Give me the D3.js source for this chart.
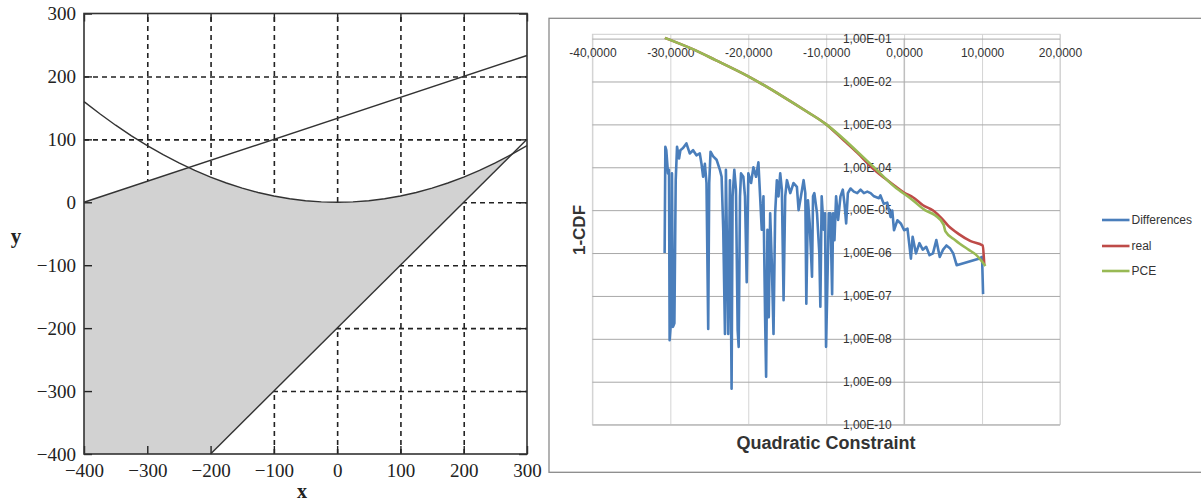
<!DOCTYPE html>
<meta charset="utf-8">
<style>
body { margin: 0; background: #fff; }
svg { display: block; }
.serif text { font-family: "Liberation Serif", "DejaVu Serif", serif; fill: #222; }
.xl text { font-family: "Liberation Sans", Arial, sans-serif; fill: #333; }
</style>
<svg width="1201" height="504"></svg>
<script src="https://d3js.org/d3.v7.min.js"></script>
<script>
// ---------- left figure data ----------
var leftTicks = [-400, -300, -200, -100, 0, 100, 200, 300];
var leftGrid = [-300, -200, -100, 0, 100, 200];
var parabola = [[-400,160],[-375,140.6],[-350,122.5],[-325,105.6],[-300,90],[-275,75.6],[-250,62.5],[-225,50.6],
  [-200,40],[-175,30.6],[-150,22.5],[-125,15.6],[-100,10],[-75,5.6],[-50,2.5],[-25,0.6],[0,0],[25,0.6],[50,2.5],
  [75,5.6],[100,10],[125,15.6],[150,22.5],[175,30.6],[200,40],[225,50.6],[250,62.5],[275,75.6],[300,90]];
var upperLine = [[-400,0],[300,233.3]];
var lowerLine = [[-200,-400],[300,100]];
var region = [[-400,0],[-235,55],[-225,50.6],[-200,40],[-175,30.6],[-150,22.5],[-125,15.6],[-100,10],[-75,5.6],
  [-50,2.5],[-25,0.6],[0,0],[25,0.6],[50,2.5],[75,5.6],[100,10],[125,15.6],[150,22.5],[175,30.6],[200,40],
  [225,50.6],[250,62.5],[276,76.4],[-200,-400],[-400,-400]];

// ---------- right figure data ----------
var xTicks = [-40, -30, -20, -10, 0, 10, 20];
var xTickLabels = ["-40,0000", "-30,0000", "-20,0000", "-10,0000", "0,0000", "10,0000", "20,0000"];
var yTicks = [1e-1, 1e-2, 1e-3, 1e-4, 1e-5, 1e-6, 1e-7, 1e-8, 1e-9, 1e-10];
var yTickLabels = ["1,00E-01", "1,00E-02", "1,00E-03", "1,00E-04", "1,00E-05", "1,00E-06", "1,00E-07", "1,00E-08", "1,00E-09", "1,00E-10"];

var diffX = [-30.73,-30.64,-30.52,-30.30,-30.17,-30.09,-29.87,-29.79,-29.66,-29.48,-29.31,-29.14,-28.88,-28.71,-28.37,
  -27.94,-27.51,-27.08,-26.65,-26.22,-26.00,-25.79,-25.57,-25.36,-25.14,-25.01,-24.84,-24.50,-24.07,-23.64,-23.42,
  -23.21,-22.99,-22.87,-22.57,-22.35,-22.14,-22.01,-21.79,-21.58,-21.36,-21.23,-21.06,-20.93,-20.63,-20.42,-20.20,
  -19.99,-19.64,-19.34,-19.00,-18.70,-18.48,-18.27,-18.05,-17.84,-17.71,-17.54,-17.37,-17.19,-16.98,-16.76,-16.55,
  -16.33,-16.12,-15.90,-15.69,-15.47,-15.26,-15.04,-14.61,-14.19,-13.76,-13.54,-13.24,-12.90,-12.68,-12.55,-12.34,
  -12.12,-11.82,-11.69,-11.52,-11.18,-10.88,-10.75,-10.58,-10.32,-10.15,-10.02,-9.89,-9.67,-9.46,-9.24,-9.11,-8.94,
  -8.73,-8.47,-8.17,-7.87,-7.65,-7.44,-7.22,-6.88,-6.45,-6.02,-5.59,-5.16,-4.73,-4.30,-3.87,-3.23,-3.04,-2.61,-2.17,
  -1.74,-1.52,-1.30,-0.87,-0.43,0.00,0.43,0.87,1.09,1.52,1.96,2.39,2.83,3.26,3.70,4.13,4.57,5.00,5.43,5.87,6.30,
  6.74,9.57,10.00,10.13];
var diffY = [1.0e-6,3.0e-4,2.5e-4,7.2e-5,8.7e-5,9.3e-9,3.2e-8,7.2e-5,1.9e-8,2.3e-8,5.0e-5,3.0e-4,1.6e-4,2.5e-4,2.8e-4,
  3.6e-4,2.1e-4,2.5e-4,1.9e-4,2.1e-4,1.2e-4,6.0e-5,1.2e-4,4.3e-5,1.7e-8,4.3e-5,2.3e-4,1.8e-4,1.5e-4,8.7e-5,6.0e-5,
  3.5e-6,1.3e-8,8.7e-5,1.3e-8,5.0e-5,6.9e-10,2.1e-5,8.7e-5,3.0e-5,1.6e-8,6.5e-9,2.1e-5,7.2e-5,6.0e-5,2.1e-5,2.1e-7,
  7.2e-5,4.3e-5,1.0e-4,6.0e-5,1.3e-4,2.1e-5,3.5e-6,2.1e-5,3.2e-8,1.3e-9,3.5e-6,3.2e-8,8.5e-6,5.8e-7,1.3e-8,8.5e-6,
  5.0e-5,2.1e-5,7.2e-5,3.0e-5,7.9e-8,2.1e-5,5.0e-5,2.5e-5,4.3e-5,3.5e-5,1.0e-5,2.1e-5,5.0e-5,2.5e-5,6.6e-8,1.7e-5,
  4.9e-6,2.8e-7,2.1e-5,2.5e-5,8.5e-6,9.8e-7,5.6e-8,2.1e-5,3.5e-6,8.5e-6,6.5e-9,7.9e-8,8.5e-6,8.5e-6,1.1e-7,8.5e-6,2.0e-6,
  2.1e-5,5.9e-6,2.1e-5,3.0e-5,1.4e-5,4.9e-6,2.5e-5,3.2e-5,2.7e-5,2.5e-5,3.0e-5,2.5e-5,2.7e-5,2.5e-5,2.1e-5,1.9e-5,2.2e-5,1.4e-5,1.5e-5,
  6.9e-6,9.8e-6,3.4e-6,5.8e-6,4.9e-6,3.4e-6,3.7e-6,7.4e-7,2.4e-6,9.8e-7,1.7e-6,1.2e-6,1.4e-6,8.9e-7,9.8e-7,2.0e-6,8.1e-7,1.2e-6,1.5e-6,1.3e-6,9.8e-7,
  5.2e-7,7.4e-7,8.1e-7,1.1e-7];

var realX = [-30.7,-27.2,-24.2,-20.0,-15.5,-12.5,-10.0,-7.72,-6.03,-4.05,-2.52,-1.22,0.08,1.12,2.42,3.72,4.76,5.67,6.97,8.53,10.09,10.28];
var realY = [1.04e-1,5.75e-2,3.16e-2,1.32e-2,4.4e-3,2.0e-3,1.0e-3,4.2e-4,2.2e-4,9.5e-5,5.6e-5,3.7e-5,2.5e-5,2.0e-5,1.3e-5,9.8e-6,6.6e-6,4.3e-6,2.8e-6,1.9e-6,1.5e-6,5.4e-7];

var pceX = [-30.7,-27.2,-24.2,-20.0,-15.5,-12.5,-10.0,-7.72,-6.0,-4.0,-1.22,0.95,2.67,3.97,5.06,5.3,6.56,8.26,9.17,10.43];
var pceY = [1.04e-1,5.75e-2,3.16e-2,1.32e-2,4.4e-3,2.0e-3,1.0e-3,4.5e-4,2.3e-4,1.05e-4,3.5e-5,1.8e-5,1.0e-5,7.6e-6,4.6e-6,3.2e-6,2.0e-6,1.2e-6,9.3e-7,5.0e-7];

var seriesNames = ["Differences", "real", "PCE"];
var seriesColors = ["#4a7ebb", "#be4b48", "#98b954"];

var svg = d3.select("svg");

// ================= left figure =================
var L = svg.append("g").attr("class", "serif");
var lx = d3.scaleLinear().domain([-400, 300]).range([84, 527]),
    ly = d3.scaleLinear().domain([-400, 300]).range([454, 13.5]);

// dashed grid
L.append("g")
    .attr("transform", "translate(0," + ly(-400) + ")")
    .call(d3.axisBottom(lx).tickValues(leftGrid).tickSize(-(ly(-400) - ly(300))).tickFormat(""))
    .call(function(g) { g.select(".domain").remove(); })
    .selectAll("line").attr("stroke", "#222").attr("stroke-width", 1.6).attr("stroke-dasharray", "5,4");
L.append("g")
    .attr("transform", "translate(" + lx(-400) + ",0)")
    .call(d3.axisLeft(ly).tickValues(leftGrid).tickSize(-(lx(300) - lx(-400))).tickFormat(""))
    .call(function(g) { g.select(".domain").remove(); })
    .selectAll("line").attr("stroke", "#222").attr("stroke-width", 1.6).attr("stroke-dasharray", "5,4");

// feasible region
L.append("path")
    .datum(region)
    .attr("fill", "#d2d2d2")
    .attr("d", d3.line().x(function(d) { return lx(d[0]); }).y(function(d) { return ly(d[1]); }).curve(d3.curveLinearClosed));

// inner ticks and labels
var fmtL = function(d) { return d < 0 ? "\u2212" + Math.abs(d) : "" + d; };
L.append("g")
    .attr("transform", "translate(0," + ly(-400) + ")")
    .call(d3.axisBottom(lx).tickValues(leftTicks).tickSize(-8).tickPadding(10).tickFormat(fmtL))
    .call(function(g) { g.select(".domain").remove(); g.selectAll("text").attr("font-size", 19).attr("fill", "#222"); });
L.append("g")
    .attr("transform", "translate(0," + ly(300) + ")")
    .call(d3.axisTop(lx).tickValues(leftTicks).tickSize(-8).tickFormat(""))
    .call(function(g) { g.select(".domain").remove(); });
L.append("g")
    .attr("transform", "translate(" + lx(-400) + ",0)")
    .call(d3.axisLeft(ly).tickValues(leftTicks).tickSize(-8).tickPadding(8).tickFormat(fmtL))
    .call(function(g) { g.select(".domain").remove(); g.selectAll("text").attr("font-size", 19).attr("fill", "#222"); });
L.append("g")
    .attr("transform", "translate(" + lx(300) + ",0)")
    .call(d3.axisRight(ly).tickValues(leftTicks).tickSize(-8).tickFormat(""))
    .call(function(g) { g.select(".domain").remove(); });
L.selectAll(".tick line").filter(function() { return !this.getAttribute("stroke-dasharray"); })
    .attr("stroke", "#222").attr("stroke-width", 1.4);

// curves
var lline = d3.line().x(function(d) { return lx(d[0]); }).y(function(d) { return ly(d[1]); });
[parabola, upperLine, lowerLine].forEach(function(c) {
  L.append("path").datum(c).attr("fill", "none").attr("stroke", "#333").attr("stroke-width", 1.4).attr("d", lline);
});

// frame
L.append("rect")
    .attr("x", lx(-400)).attr("y", ly(300))
    .attr("width", lx(300) - lx(-400)).attr("height", ly(-400) - ly(300))
    .attr("fill", "none").attr("stroke", "#333").attr("stroke-width", 1.6);

L.append("text").attr("x", 16).attr("y", 236).attr("dy", "0.35em").attr("text-anchor", "middle")
    .attr("font-size", 21).attr("font-weight", "bold").text("y");
L.append("text").attr("x", 302).attr("y", 498).attr("text-anchor", "middle")
    .attr("font-size", 20).attr("font-weight", "bold").text("x");

// ================= right figure =================
var R = svg.append("g").attr("class", "xl");
R.append("rect").attr("x", 549).attr("y", 18.3).attr("width", 700).attr("height", 454)
    .attr("fill", "#fff").attr("stroke", "#8a8a8a").attr("stroke-width", 1.3);

var rx = d3.scaleLinear().domain([-40, 20]).range([592.4, 1060]),
    ry = d3.scaleLog().domain([1e-10, 1e-1]).range([424.6, 38.6]);

// plot area border
R.append("rect").attr("x", rx(-40)).attr("y", 34.3).attr("width", rx(20) - rx(-40)).attr("height", ry(1e-10) - 34.3)
    .attr("fill", "none").attr("stroke", "#cfcfcf");

R.append("g")
    .attr("transform", "translate(0," + ry(1e-10) + ")")
    .call(d3.axisBottom(rx).tickValues(xTicks).tickSize(-(ry(1e-10) - 34.3)).tickFormat(""))
    .call(function(g) { g.select(".domain").remove(); g.selectAll("line").attr("stroke", "#d4d4d4"); });
R.append("g")
    .attr("transform", "translate(" + rx(-40) + ",0)")
    .call(d3.axisLeft(ry).tickValues(yTicks).tickSize(-(rx(20) - rx(-40))).tickFormat(""))
    .call(function(g) { g.select(".domain").remove(); g.selectAll("line").attr("stroke", "#a8a8a8"); });
// y axis line at x = 0
R.append("line").attr("x1", rx(0)).attr("x2", rx(0)).attr("y1", ry(1e-1)).attr("y2", ry(1e-10))
    .attr("stroke", "#b0b0b0");

// tick labels
R.append("g")
    .attr("transform", "translate(0," + ry(1e-1) + ")")
    .call(d3.axisBottom(rx).tickValues(xTicks).tickSize(0).tickPadding(10)
      .tickFormat(function(d, i) { return xTickLabels[i]; }))
    .call(function(g) { g.select(".domain").remove(); g.selectAll("text").attr("font-size", 12).attr("fill", "#333"); });
R.append("g")
    .attr("transform", "translate(" + rx(0) + ",0)")
    .call(d3.axisLeft(ry).tickValues(yTicks).tickSize(0).tickPadding(12.5)
      .tickFormat(function(d, i) { return yTickLabels[i]; }))
    .call(function(g) { g.select(".domain").remove(); g.selectAll("text").attr("font-size", 12).attr("fill", "#333"); });

// series
var series = [
  {name: seriesNames[0], xs: diffX, ys: diffY, curve: d3.curveLinear},
  {name: seriesNames[1], xs: realX, ys: realY, curve: d3.curveMonotoneX},
  {name: seriesNames[2], xs: pceX, ys: pceY, curve: d3.curveMonotoneX}
];
R.selectAll(".series")
    .data(series)
  .enter().append("path")
    .attr("class", "series")
    .attr("fill", "none")
    .attr("stroke", function(d, i) { return seriesColors[i]; })
    .attr("stroke-width", 2.6)
    .attr("stroke-linejoin", "round")
    .attr("d", function(d) {
      var line = d3.line().curve(d.curve)
          .x(function(p) { return rx(p[0]); }).y(function(p) { return ry(p[1]); });
      return line(d.xs.map(function(x, i) { return [x, d.ys[i]]; }));
    });

// titles
R.append("text").attr("transform", "translate(579,230) rotate(-90)").attr("dy", "0.35em")
    .attr("text-anchor", "middle").attr("font-size", 17).attr("font-weight", "bold").attr("fill", "#000").text("1-CDF");
R.append("text").attr("x", 826).attr("y", 443).attr("dy", "0.35em")
    .attr("text-anchor", "middle").attr("font-size", 18).attr("font-weight", "bold").attr("fill", "#000").text("Quadratic Constraint");

// legend
var lg = R.selectAll(".legend")
    .data(seriesNames)
  .enter().append("g")
    .attr("class", "legend")
    .attr("transform", function(d, i) { return "translate(1102," + [220, 246, 271][i] + ")"; });
lg.append("line").attr("x1", 0).attr("x2", 27.5)
    .attr("stroke", function(d, i) { return seriesColors[i]; }).attr("stroke-width", 2.6);
lg.append("text").attr("x", 29.5).attr("dy", "0.35em").attr("font-size", 12).attr("fill", "#333")
    .text(function(d) { return d; });
</script>
